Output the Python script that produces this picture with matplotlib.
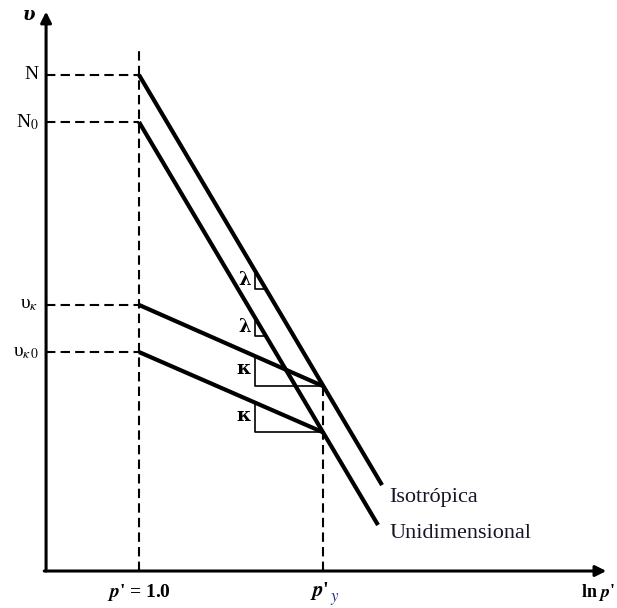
import matplotlib
matplotlib.use("Agg")
import matplotlib.pyplot as plt

plt.rcParams["mathtext.fontset"] = "stix"

# abstract units: ln p' = 0 at p'=1.0, 1 at p'_y ; v = 0 on the x axis
x_axis_pos = -0.505      # where the v axis stands
x_arrow_end = 2.54
v_arrow_end = 3.04

# v levels on the axis
level_labels = ["N", "N$_0$", "υ$_\\kappa$", "υ$_{\\kappa\\,0}$"]
level_values = [2.696, 2.440, 1.446, 1.190]

# normal compression lines (start, end)
iso_x = [0.0, 1.321]
iso_v = [2.696, 0.467]
uni_x = [0.0, 1.299]
uni_v = [2.440, 0.250]

# swelling lines
k1_x = [0.0, 1.0]
k1_v = [1.446, 1.005]
k2_x = [0.0, 1.0]
k2_v = [1.190, 0.754]

# slope triangles: (x of vertical leg, top v, bottom v, x of right corner)
lam_tri = [(0.63, 1.633, 1.530, 0.691), (0.63, 1.378, 1.277, 0.690)]
kap_tri = [(0.63, 1.168, 1.005, 1.0), (0.63, 0.915, 0.754, 1.0)]

fig = plt.figure(figsize=(6.17, 6.08), dpi=100)
ax = fig.add_axes([0, 0, 1, 1])
ax.set_xlim(-0.7554, 2.598)
ax.set_ylim(-0.201, 3.103)
ax.axis("off")

# axes with arrows
ax.annotate("", xy=(x_axis_pos, v_arrow_end), xytext=(x_axis_pos, 0),
            arrowprops=dict(arrowstyle="-|>", lw=2.2, color="k", mutation_scale=16,
                            shrinkA=0, shrinkB=0))
ax.annotate("", xy=(x_arrow_end, 0), xytext=(x_axis_pos - 0.01, 0),
            arrowprops=dict(arrowstyle="-|>", lw=2.2, color="k", mutation_scale=16,
                            shrinkA=0, shrinkB=0))

dash = dict(color="k", lw=1.5, dashes=(4.5, 2.5))
# dashed level lines
for v in level_values:
    ax.plot([x_axis_pos, 0], [v, v], **dash)
ax.plot([0, 0], [0, 2.83], **dash)
ax.plot([1, 1], [0, k1_v[1]], **dash)

# main lines
for xs, vs in [(iso_x, iso_v), (uni_x, uni_v), (k1_x, k1_v), (k2_x, k2_v)]:
    ax.plot(xs, vs, color="k", lw=3.0, solid_capstyle="butt")

# triangles
for xl, vt, vb, xr in lam_tri + kap_tri:
    ax.plot([xl, xl, xr], [vt, vb, vb], color="k", lw=1.2)

serif = "Liberation Serif"
for xl, vt, vb, xr in lam_tri:
    ax.text(xl - 0.02, (vt + vb) / 2, "λ", ha="right", va="center",
            fontsize=13, fontweight="bold", family="DejaVu Serif")
for xl, vt, vb, xr in kap_tri:
    ax.text(xl - 0.02, (vt + vb) / 2 + 0.01, "κ", ha="right", va="center",
            fontsize=14, fontweight="bold", family="DejaVu Serif")

for lab, v in zip(level_labels, level_values):
    ax.text(x_axis_pos - 0.04, v, lab, ha="right", va="center",
            fontsize=14, family=serif)

ax.text(x_axis_pos - 0.06, v_arrow_end - 0.02, "υ", ha="right", va="center",
        fontsize=13, fontweight="bold", style="italic", family="DejaVu Serif")

# x labels
ax.text(0, -0.115, "$\\mathbfit{p}$' = 1.0", ha="center", va="center",
        fontsize=14, fontweight="bold", family=serif)
ax.text(1.035, -0.108, "$\\mathbfit{p}$'", ha="right", va="center",
        fontsize=15, fontweight="bold", family=serif)
ax.text(1.036, -0.15, "$\\mathit{y}$", ha="left", va="center",
        fontsize=12, family=serif, color="#1f2f80")
ax.text(2.59, -0.115, "ln $\\mathbfit{p}$'", ha="right", va="center",
        fontsize=13, fontweight="bold", family=serif)

# curve names
ax.text(1.36, 0.40, "Isotrópica", ha="left", va="center", fontsize=16,
        family=serif, color="#15152a")
ax.text(1.36, 0.205, "Unidimensional", ha="left", va="center", fontsize=16,
        family=serif, color="#15152a")

fig.savefig("out.png", dpi=100)
